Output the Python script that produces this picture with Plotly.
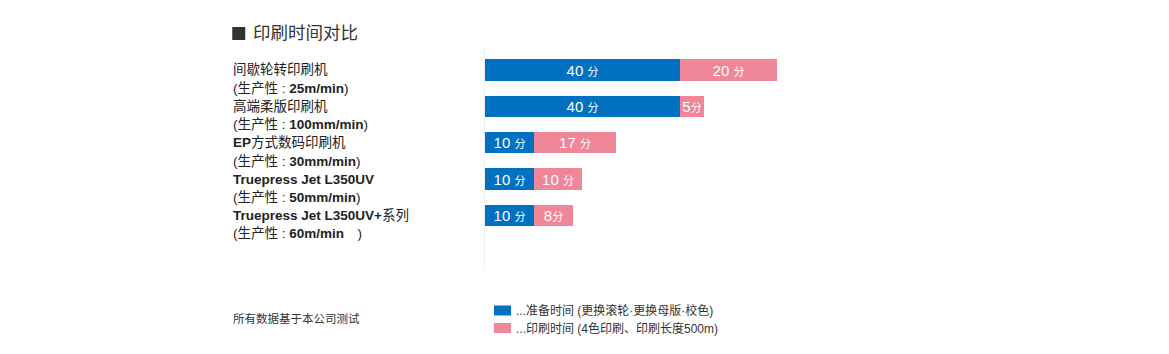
import plotly.graph_objects as go

# ---- data ----
machines_line1 = ["间歇轮转印刷机", "高端柔版印刷机", "<b>EP</b>方式数码印刷机",
                  "<b>Truepress Jet L350UV</b>", "<b>Truepress Jet L350UV+</b>系列"]
machines_line2 = ["(生产性 : <b>25m/min</b>)", "(生产性 : <b>100mm/min</b>)",
                  "(生产性 : <b>30mm/min</b>)", "(生产性 : <b>50mm/min</b>)",
                  "(生产性 : <b>60m/min</b>\u3000)"]
prep_time = [40, 40, 10, 10, 10]
print_time = [20, 5, 17, 10, 8]
prep_labels = ["40 ", "40 ", "10 ", "10 ", "10 "]
print_labels = ["20 ", "5", "17 ", "10 ", "8"]
unit = "分"
series_names = ["...准备时间 (更换滚轮·更换母版·校色)", "...印刷时间 (4色印刷、印刷长度500m)"]
title_text = "印刷时间对比"
footnote = "所有数据基于本公司测试"

BLUE = "#0071C1"
PINK = "#EF8799"
FONT = "Liberation Sans, Noto Sans CJK SC, sans-serif"

rows = list(range(len(prep_time)))

def fmt(lbls):
    return [f"{l}<span style='font-size:11px'>{unit}</span>" for l in lbls]

fig = go.Figure()
fig.add_trace(go.Bar(
    y=rows, x=prep_time, orientation="h", marker=dict(color=BLUE, line=dict(width=0)),
    width=0.59, text=fmt(prep_labels), textposition="inside", insidetextanchor="middle",
    textangle=0, constraintext="none", textfont=dict(color="white", size=15, family=FONT),
    name=series_names[0], showlegend=False, hoverinfo="skip"))
fig.add_trace(go.Bar(
    y=rows, x=print_time, orientation="h", marker=dict(color=PINK, line=dict(width=0)),
    width=0.59, text=fmt(print_labels), textposition="inside", insidetextanchor="middle",
    textangle=0, constraintext="none", textfont=dict(color="white", size=15, family=FONT),
    name=series_names[1], showlegend=False, hoverinfo="skip"))

W, H = 1169, 354
L, T = 485, 47
PW = 487.5
PH = 270 - T
R = W - L - PW
B = H - 270

def px_x(px):
    return (px - L) / PW

def px_y(py):
    return 1 - (py - T) / PH

ann = []
for i in rows:
    ann.append(dict(xref="paper", yref="y", x=px_x(231), y=i, text=machines_line1[i],
                    xanchor="left", yanchor="middle", showarrow=False,
                    font=dict(size=13.5, color="#222", family=FONT)))
    ann.append(dict(xref="paper", yref="y", x=px_x(231), y=i, yshift=-18.5, text=machines_line2[i],
                    xanchor="left", yanchor="middle", showarrow=False,
                    font=dict(size=13.5, color="#222", family=FONT)))
# title
ann.append(dict(xref="paper", yref="paper", x=px_x(251), y=px_y(33), text=title_text,
                xanchor="left", yanchor="middle", showarrow=False,
                font=dict(size=17.5, color="#333", family=FONT)))
# footnote
ann.append(dict(xref="paper", yref="paper", x=px_x(231), y=px_y(318), text=footnote,
                xanchor="left", yanchor="middle", showarrow=False,
                font=dict(size=11.5, color="#333", family=FONT)))
# legend texts
for k, (yy, nm) in enumerate(zip([310.5, 328.5], series_names)):
    ann.append(dict(xref="paper", yref="paper", x=px_x(514), y=px_y(yy), text=nm,
                    xanchor="left", yanchor="middle", showarrow=False,
                    font=dict(size=12, color="#333", family=FONT)))

shapes = [
    dict(type="rect", xref="paper", yref="paper", x0=px_x(232), x1=px_x(245),
         y0=px_y(40), y1=px_y(27), fillcolor="#333", line=dict(width=0)),
    dict(type="rect", xref="paper", yref="paper", x0=px_x(494), x1=px_x(511),
         y0=px_y(315.5), y1=px_y(305.5), fillcolor=BLUE, line=dict(width=0)),
    dict(type="rect", xref="paper", yref="paper", x0=px_x(494), x1=px_x(511),
         y0=px_y(333), y1=px_y(323), fillcolor=PINK, line=dict(width=0)),
]

fig.update_layout(
    width=W, height=H, barmode="stack", bargap=0,
    margin=dict(l=L, r=R, t=T, b=B, pad=0),
    paper_bgcolor="white", plot_bgcolor="white",
    xaxis=dict(range=[0, 100], visible=False, fixedrange=True),
    yaxis=dict(range=[5.5, -0.632], showticklabels=False, showgrid=False, zeroline=False,
               showline=True, linecolor="#f0f0f0", linewidth=1, ticks="", fixedrange=True),
    annotations=ann, shapes=shapes, showlegend=False,
    font=dict(family=FONT),
)

fig.write_html("out.html", config={"displayModeBar": False})
